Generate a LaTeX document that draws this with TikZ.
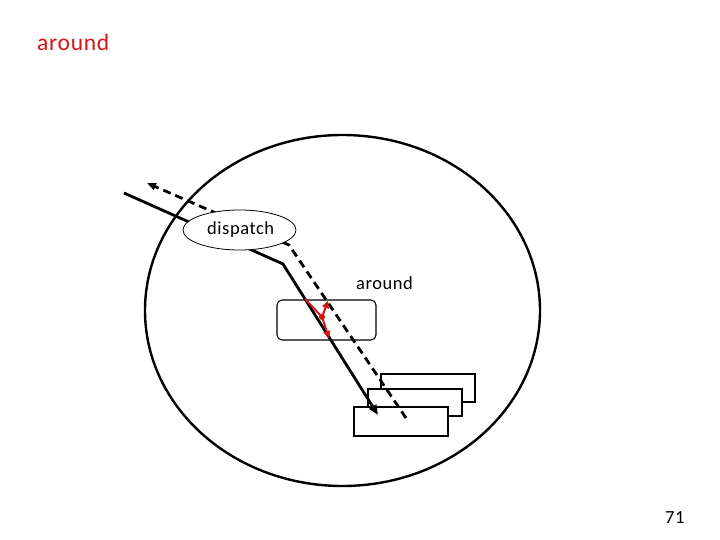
\documentclass[tikz,border=0pt]{standalone}
\usepackage{fontspec}
\setmainfont{Carlito}[LetterSpace=3]
\usetikzlibrary{shapes.geometric,arrows.meta}
\definecolor{myred}{RGB}{215,20,20}
\begin{document}
\begin{tikzpicture}[x=1pt,y=-1pt,
  thickline/.style={line width=2.8pt},
  dashline/.style={line width=2.8pt, dash pattern=on 8pt off 5pt},
  stackbox/.style={draw, line width=2pt, fill=white, minimum width=94pt, inner sep=0pt},
  lbl/.style={inner sep=0pt, anchor=base west},
  redline/.style={draw=myred, line width=2pt},
  redtip/.style={-{Triangle[length=7pt,width=7pt]}}
]
\useasboundingbox (0,0) rectangle (720,540);
% big region
\node[draw, ellipse, line width=2.4pt, minimum width=395pt, minimum height=351pt, inner sep=0pt] (region) at (342.5,310.5) {};
% stacked boxes
\node[stackbox, minimum height=28pt] (back) at (428,388) {};
\node[stackbox, minimum height=27pt] (midbox) at (415,402.5) {};
\node[stackbox, minimum height=29pt] (front) at (401,421.5) {};
% coordinates
\coordinate (s0) at (124,193);
\coordinate (s1) at (283,264);
\coordinate (s2) at (378,415);
\coordinate (d0) at (406,418);
\coordinate (d1) at (289,245);
\coordinate (d2) at (147,183);
% lines
\draw[thickline, -{Triangle[length=10pt,width=8pt]}] (s0) -- (s1) -- (s2);
\draw[dashline, -{Triangle[length=9pt,width=7pt]}] (d0) -- (d1) -- (d2);
% dispatch ellipse
\node[draw, ellipse, line width=0.8pt, fill=white, minimum width=113pt, minimum height=40pt, inner sep=0pt] (disp) at (239.5,230) {};
% middle rounded rectangle
\node[draw, rounded corners=5pt, line width=1.1pt, minimum width=99pt, minimum height=40pt, inner sep=0pt] (gate) at (326.5,320) {};
% red lines
\coordinate (r0) at (305,299);
\coordinate (rj) at (322,317);
\coordinate (r1) at (328,301);
\coordinate (r2) at (329,338);
\draw[redline] (r0) -- (rj);
\draw[redline, redtip] (rj) -- (r1);
\draw[redline, redtip] (rj) -- (r2);
\fill[myred] (rj) circle (3pt);
% texts
\node[lbl, text=myred, font=\fontsize{23.5}{28}\selectfont] (title) at (37,51) {around};
\node[lbl, font=\fontsize{18.5}{22}\selectfont] (dtext) at (207,235) {dispatch};
\node[lbl, font=\fontsize{18.5}{22}\selectfont] (atext) at (356,289) {around};
\node[lbl, font=\fontsize{18.5}{22}\selectfont] (pnum) at (665,523) {71};
\end{tikzpicture}
\end{document}
